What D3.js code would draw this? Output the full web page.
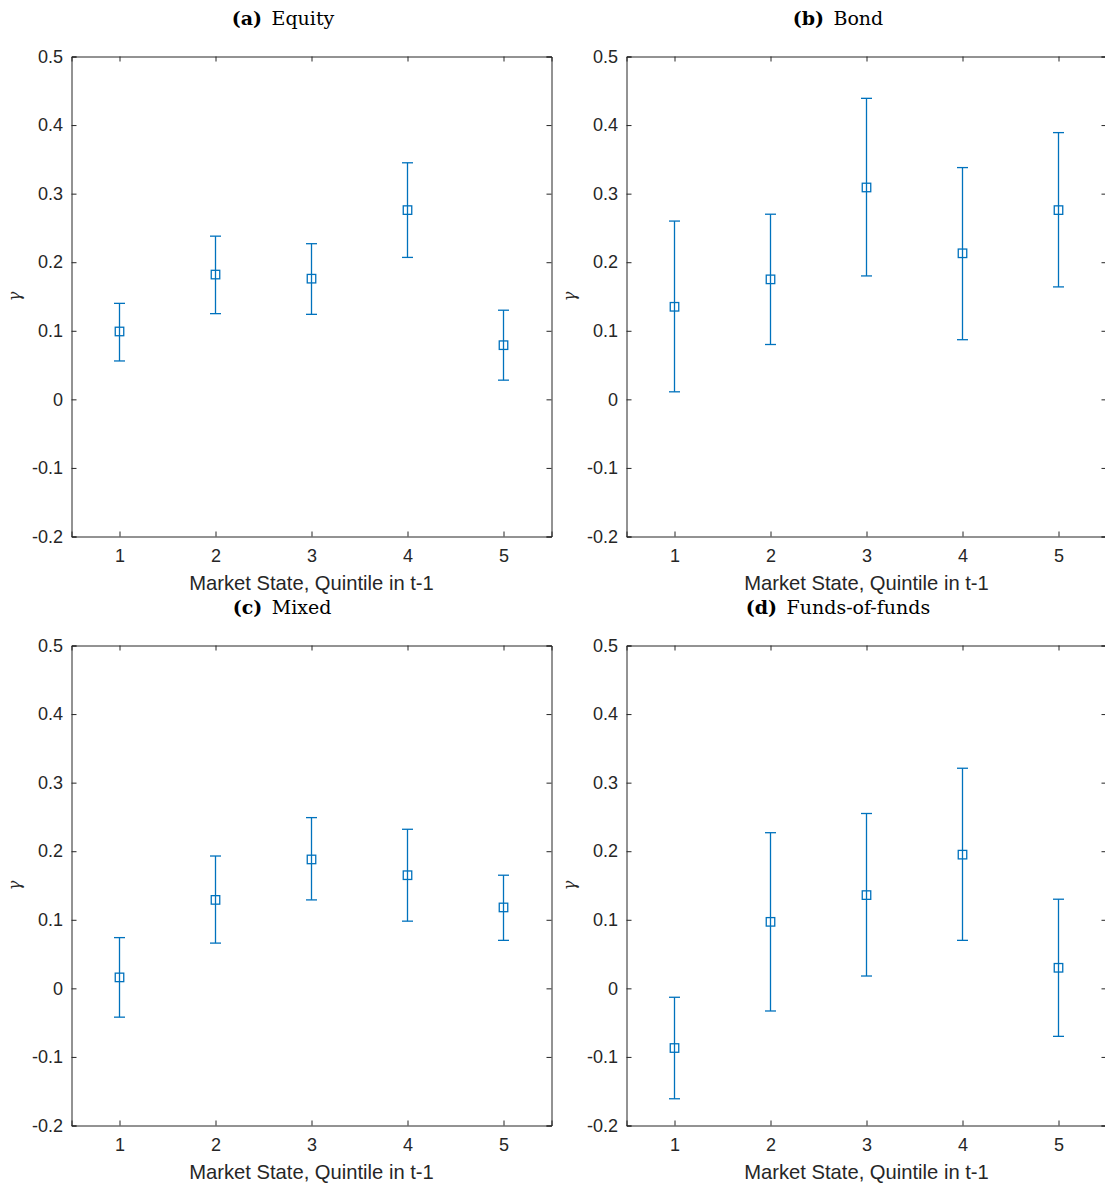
<!DOCTYPE html>
<html>
<head>
<meta charset="utf-8">
<script src="https://cdn.jsdelivr.net/npm/d3@7"></script>
<style>
  body { margin: 0; background: #fff; }
  svg { display: block; }
  .tick-label { font-family: "Liberation Sans", Arial, sans-serif; font-size: 18px; fill: #262626; }
  .axis-label { font-family: "Liberation Sans", Arial, sans-serif; font-size: 20.2px; fill: #262626; }
  .panel-title { font-family: "DejaVu Serif", "Liberation Serif", serif; font-size: 19px; fill: #000; }
</style>
</head>
<body>
<svg id="chart" width="1105" height="1188"></svg>
<script>
// values
const quintiles = [1, 2, 3, 4, 5];
const yTickValues = [-0.2, -0.1, 0, 0.1, 0.2, 0.3, 0.4, 0.5];
const xLabel = "Market State, Quintile in t-1";

const equityMid  = [0.099, 0.182, 0.176, 0.276, 0.079];
const equityLow  = [0.056, 0.125, 0.124, 0.207, 0.028];
const equityHigh = [0.140, 0.238, 0.227, 0.345, 0.130];

const bondMid  = [0.135, 0.175, 0.309, 0.213, 0.276];
const bondLow  = [0.011, 0.080, 0.180, 0.087, 0.164];
const bondHigh = [0.260, 0.270, 0.439, 0.338, 0.389];

const mixedMid  = [0.016, 0.129, 0.188, 0.165, 0.118];
const mixedLow  = [-0.042, 0.066, 0.129, 0.098, 0.070];
const mixedHigh = [0.074, 0.193, 0.249, 0.232, 0.165];

const fofMid  = [-0.087, 0.097, 0.136, 0.195, 0.030];
const fofLow  = [-0.161, -0.033, 0.018, 0.070, -0.070];
const fofHigh = [-0.013, 0.227, 0.255, 0.321, 0.130];

const panelLetters = ["(a)", "(b)", "(c)", "(d)"];
const panelNames = ["Equity", "Bond", "Mixed", "Funds-of-funds"];

const panels = [
  { mid: equityMid, low: equityLow, high: equityHigh, left: 71.5,  top: 56.5,  titleX: 283, titleY: 25 },
  { mid: bondMid,   low: bondLow,   high: bondHigh,   left: 626.5, top: 56.5,  titleX: 838, titleY: 25 },
  { mid: mixedMid,  low: mixedLow,  high: mixedHigh,  left: 71.5,  top: 645.5, titleX: 282, titleY: 614 },
  { mid: fofMid,    low: fofLow,    high: fofHigh,    left: 626.5, top: 645.5, titleX: 838, titleY: 614 }
];

const plotW = 480, plotH = 480;
const axisColor = "#262626";
const blue = "#0072BD";

const svg = d3.select("#chart");

panels.forEach((p, i) => {
  const g = svg.append("g").attr("transform", `translate(${p.left},${p.top})`);

  const x = d3.scaleLinear().domain([0.5, 5.5]).range([0, plotW]);
  const y = d3.scaleLinear().domain([-0.2, 0.5]).range([plotH, 0]);

  // Bottom axis, ticks inward
  const xAxis = g.append("g").attr("transform", `translate(0,${plotH})`)
    .call(d3.axisBottom(x).tickValues(quintiles).tickSize(-5).tickPadding(13).tickFormat(d3.format("d")));
  // Top axis mirror
  const xTop = g.append("g")
    .call(d3.axisTop(x).tickValues(quintiles).tickSize(-5).tickFormat(""));
  // Left axis
  const yAxis = g.append("g")
    .call(d3.axisLeft(y).tickValues(yTickValues).tickSize(-5).tickPadding(8.5)
      .tickFormat(d => d === 0 ? "0" : d3.format(".1f")(d).replace("−", "-")));
  // Right axis mirror
  const yRight = g.append("g").attr("transform", `translate(${plotW},0)`)
    .call(d3.axisRight(y).tickValues(yTickValues).tickSize(-5).tickFormat(""));

  [xAxis, xTop, yAxis, yRight].forEach(a => {
    a.select(".domain").attr("stroke", axisColor).attr("stroke-width", 1);
    a.selectAll(".tick line").attr("stroke", axisColor).attr("stroke-width", 1);
    a.selectAll(".tick text").attr("class", "tick-label").attr("font-family", null).attr("font-size", null);
  });
  xAxis.selectAll(".tick text").attr("dy", "0.71em");

  // x label
  g.append("text").attr("class", "axis-label")
    .attr("x", plotW / 2).attr("y", plotH + 53)
    .attr("text-anchor", "middle").text(xLabel);

  // y label
  g.append("text")
    .attr("transform", `translate(-52,${plotH / 2}) rotate(-90)`)
    .attr("text-anchor", "middle")
    .style("font-family", "\"DejaVu Serif\", serif").style("font-style", "italic")
    .style("font-size", "16px").style("fill", axisColor)
    .text("γ");

  // title
  const t = svg.append("text").attr("class", "panel-title")
    .attr("x", p.titleX).attr("y", p.titleY).attr("text-anchor", "middle");
  t.append("tspan").style("font-weight", "bold").text(panelLetters[i]);
  t.append("tspan").text("\u2002" + panelNames[i]);

  // error bars
  const capW = 11;
  const bars = g.append("g").selectAll("g").data(quintiles).join("g");
  bars.append("line")
    .attr("x1", d => x(d)).attr("x2", d => x(d))
    .attr("y1", (d, j) => y(p.low[j])).attr("y2", (d, j) => y(p.high[j]))
    .attr("stroke", blue).attr("stroke-width", 1.3);
  bars.append("line")
    .attr("x1", d => x(d) - capW / 2).attr("x2", d => x(d) + capW / 2)
    .attr("y1", (d, j) => y(p.low[j])).attr("y2", (d, j) => y(p.low[j]))
    .attr("stroke", blue).attr("stroke-width", 1.3);
  bars.append("line")
    .attr("x1", d => x(d) - capW / 2).attr("x2", d => x(d) + capW / 2)
    .attr("y1", (d, j) => y(p.high[j])).attr("y2", (d, j) => y(p.high[j]))
    .attr("stroke", blue).attr("stroke-width", 1.3);

  // square markers
  const ms = 8.5;
  bars.append("rect")
    .attr("x", d => x(d) - ms / 2)
    .attr("y", (d, j) => y(p.mid[j]) - ms / 2)
    .attr("width", ms).attr("height", ms)
    .attr("fill", "none").attr("stroke", blue).attr("stroke-width", 1.3);
});
</script>
</body>
</html>
